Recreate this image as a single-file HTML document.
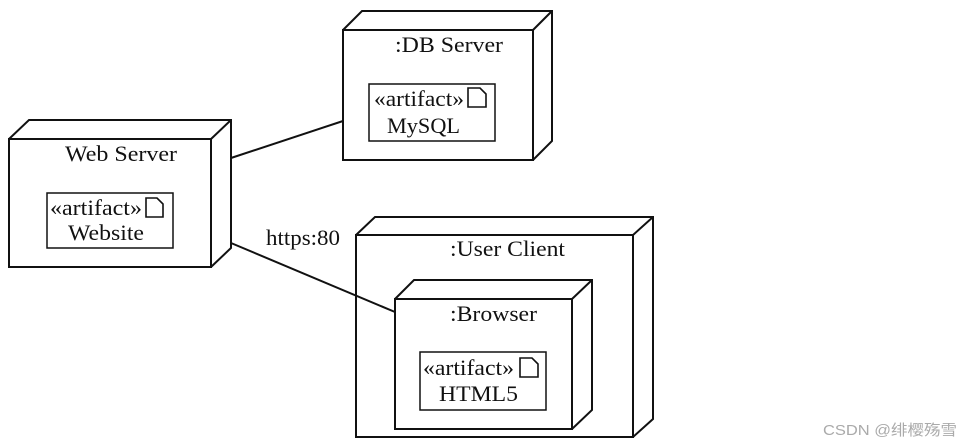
<!DOCTYPE html>
<html><head><meta charset="utf-8"><style>
html,body{margin:0;padding:0;background:#fff;}
svg{display:block;}
text{font-family:"Liberation Serif",serif;font-size:22px;fill:#111;}
</style></head><body>
<svg width="971" height="447" viewBox="0 0 971 447" xmlns="http://www.w3.org/2000/svg">
<g fill="none" stroke="#111" stroke-width="2" stroke-linejoin="miter">
<rect x="343" y="30" width="190" height="130"/>
<polyline points="343,30 362,11 552,11 552,141 533,160"/>
<line x1="533" y1="30" x2="552" y2="11"/>
<rect x="369" y="84" width="126" height="57" stroke-width="1.5"/>
<rect x="9" y="139" width="202" height="128"/>
<polyline points="9,139 29,120 231,120 231,248 211,267"/>
<line x1="211" y1="139" x2="231" y2="120"/>
<rect x="47" y="193" width="126" height="55" stroke-width="1.5"/>
<rect x="356" y="235" width="277" height="202"/>
<polyline points="356,235 375,217 653,217 653,419 633,437"/>
<line x1="633" y1="235" x2="653" y2="217"/>
<rect x="395" y="299" width="177" height="130"/>
<polyline points="395,299 414,280 592,280 592,410 572,429"/>
<line x1="572" y1="299" x2="592" y2="280"/>
<rect x="420" y="352" width="126" height="58" stroke-width="1.5"/>
<line x1="231" y1="158" x2="343" y2="121"/>
<line x1="231" y1="243" x2="395" y2="312"/>
<g stroke-width="1.6">
<path d="M468,88 h12 l6,6 v13 h-18 z"/>
<path d="M146,198 h11 l6,6 v13 h-17 z"/>
<path d="M520,358 h12 l6,6 v13 h-18 z"/>
</g>
</g>
<text x="395" y="52" textLength="108" lengthAdjust="spacingAndGlyphs">:DB Server</text>
<text x="374" y="106" textLength="90" lengthAdjust="spacingAndGlyphs">«artifact»</text>
<text x="387" y="133" textLength="73" lengthAdjust="spacingAndGlyphs">MySQL</text>
<text x="65" y="161" textLength="112" lengthAdjust="spacingAndGlyphs">Web Server</text>
<text x="50" y="215" textLength="92" lengthAdjust="spacingAndGlyphs">«artifact»</text>
<text x="68" y="240" textLength="76" lengthAdjust="spacingAndGlyphs">Website</text>
<text x="266" y="245" textLength="74" lengthAdjust="spacingAndGlyphs">https:80</text>
<text x="450" y="256" textLength="115" lengthAdjust="spacingAndGlyphs">:User Client</text>
<text x="450" y="321" textLength="87" lengthAdjust="spacingAndGlyphs">:Browser</text>
<text x="423" y="375" textLength="91" lengthAdjust="spacingAndGlyphs">«artifact»</text>
<text x="439" y="401" textLength="79" lengthAdjust="spacingAndGlyphs">HTML5</text>
<text x="823" y="435" textLength="134" lengthAdjust="spacingAndGlyphs" style="font-family:'Liberation Sans','Noto Sans CJK SC',sans-serif;font-size:15px;fill:#aaa;">CSDN @绯樱殇雪</text>
</svg>
</body></html>
